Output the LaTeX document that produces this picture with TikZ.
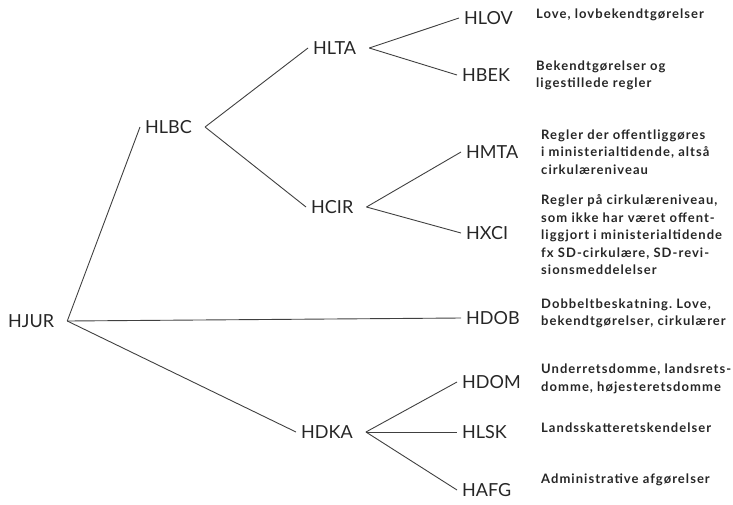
\documentclass[tikz,border=0pt]{standalone}
\usepackage{fontspec}
\setmainfont{Lato}
\frenchspacing
\begin{document}
\begin{tikzpicture}[x=1pt,y=-1pt,
  code/.style={anchor=west, inner sep=0pt, font=\fontsize{18}{20}\selectfont, text=black!85},
  desc/.style={anchor=west, align=left, inner sep=0pt, font=\bfseries\fontsize{13}{17.5}\selectfont\addfontfeature{LetterSpace=8}, text=black!85},
  lien/.style={draw=black!75, line width=0.9pt}]
\useasboundingbox (0,0) rectangle (733,504);

% Codes
  \node[code] (hjur) at (8,321) {HJUR};
  \node[code] (hlbc) at (145,127) {HLBC};
  \node[code] (hlta) at (313,48) {HLTA};
  \node[code] (hcir) at (311,207) {HCIR};
  \node[code] (hdka) at (301,432) {HDKA};
  \node[code] (hlov) at (464,18) {HLOV};
  \node[code] (hbek) at (462,75) {HBEK};
  \node[code] (hmta) at (466,152) {HMTA};
  \node[code] (hxci) at (466,233) {HXCI};
  \node[code] (hdob) at (466,318) {HDOB};
  \node[code] (hdom) at (462,382) {HDOM};
  \node[code] (hlsk) at (462,432) {HLSK};
  \node[code] (hafg) at (462,490) {HAFG};

% Textes
  \node[desc] (dlov) at (536,15) {Love, lovbekendtgørelser};
  \node[desc] (dbek) at (536,75.5) {Bekendtgørelser og\\ligestillede regler};
  \node[desc] (dmta) at (541,152) {Regler der offentliggøres\\i ministerialtidende, altså\\cirkulæreniveau};
  \node[desc] (dxci) at (541,235) {Regler på cirkulæreniveau,\\som ikke har været offent-\\liggjort i ministerialtidende\\fx SD-cirkulære, SD-revi-\\sionsmeddelelser};
  \node[desc] (ddob) at (541,313.5) {Dobbeltbeskatning. Love,\\bekendtgørelser, cirkulærer};
  \node[desc] (ddom) at (541,379) {Underretsdomme, landsrets-\\domme, højesteretsdomme};
  \node[desc] (dlsk) at (541,428) {Landsskatteretskendelser};
  \node[desc] (dafg) at (541,480) {Administrative afgørelser};

% Liens
  \foreach \a/\b in {hjur/hlbc, hjur/hdob, hjur/hdka, hlbc/hlta, hlbc/hcir,
      hlta/hlov, hlta/hbek, hcir/hmta, hcir/hxci, hdka/hdom, hdka/hlsk, hdka/hafg}
    \draw[lien] ([xshift=13pt]\a.east) -- ([xshift=-5pt]\b.west);
\end{tikzpicture}
\end{document}
